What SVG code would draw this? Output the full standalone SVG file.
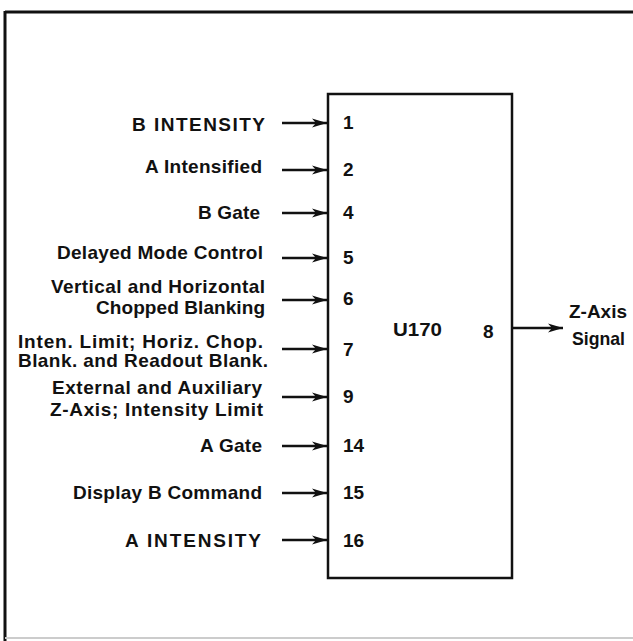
<svg xmlns="http://www.w3.org/2000/svg" width="633" height="641" viewBox="0 0 633 641">
<defs>
<marker id="ah" markerWidth="16" markerHeight="12" refX="15" refY="6" orient="auto" markerUnits="userSpaceOnUse">
<path d="M0,1.5 L15,6 L0,10.5 L4,6 Z" fill="#111"/>
</marker>
</defs>
<style>
text{font-family:"Liberation Sans",Arial,sans-serif;font-weight:bold;font-size:19px;fill:#111}
.lbl{text-anchor:end}
.pin{text-anchor:start}
.wire{stroke:#111;stroke-width:2.4;fill:none}
.box{stroke:#111;stroke-width:2.5;fill:#fff}
</style>
<rect width="633" height="641" fill="#fff"/>
<g id="frame">
<line x1="5" y1="12" x2="633" y2="12" stroke="#111" stroke-width="3"/>
<line x1="5" y1="11" x2="5" y2="641" stroke="#111" stroke-width="3"/>
<line x1="5" y1="638" x2="633" y2="638" stroke="#ccc" stroke-width="2"/>
</g>
<g id="u170">
<rect class="box" x="328" y="94" width="184" height="484"/>
<text x="393" y="336" textLength="49" lengthAdjust="spacingAndGlyphs">U170</text>
<text x="483" y="338">8</text>
<text class="pin" x="343" y="129">1</text>
<text class="pin" x="343" y="176">2</text>
<text class="pin" x="343" y="219">4</text>
<text class="pin" x="343" y="264">5</text>
<text class="pin" x="343" y="305">6</text>
<text class="pin" x="343" y="356">7</text>
<text class="pin" x="343" y="403">9</text>
<text class="pin" x="343" y="452">14</text>
<text class="pin" x="343" y="499">15</text>
<text class="pin" x="343" y="547">16</text>
</g>
<g id="in1"><text class="lbl" x="265" y="131" textLength="133">B INTENSITY</text></g>
<g id="in2"><text class="lbl" x="262" y="173" textLength="117">A Intensified</text></g>
<g id="in4"><text class="lbl" x="260" y="219" textLength="62">B Gate</text></g>
<g id="in5"><text class="lbl" x="263" y="259" textLength="206">Delayed Mode Control</text></g>
<g id="in6">
<text class="lbl" x="265" y="293" textLength="214">Vertical and Horizontal</text>
<text class="lbl" x="265" y="314" textLength="169">Chopped Blanking</text>
</g>
<g id="in7">
<text class="lbl" x="263" y="348" textLength="245">Inten. Limit; Horiz. Chop.</text>
<text class="lbl" x="268" y="367" textLength="250">Blank. and Readout Blank.</text>
</g>
<g id="in9">
<text class="lbl" x="262" y="394" textLength="210">External and Auxiliary</text>
<text class="lbl" x="263" y="416" textLength="213">Z-Axis; Intensity Limit</text>
</g>
<g id="in14"><text class="lbl" x="262" y="452" textLength="62">A Gate</text></g>
<g id="in15"><text class="lbl" x="262" y="499" textLength="189">Display B Command</text></g>
<g id="in16"><text class="lbl" x="261" y="547" textLength="136">A INTENSITY</text></g>
<g id="out8">
<text x="569" y="318" textLength="58" lengthAdjust="spacingAndGlyphs">Z-Axis</text>
<text x="572" y="345" textLength="53" lengthAdjust="spacingAndGlyphs">Signal</text>
</g>
<g id="connectors">
<line class="wire" x1="282" y1="123" x2="327" y2="123" marker-end="url(#ah)"/>
<line class="wire" x1="282" y1="170" x2="327" y2="170" marker-end="url(#ah)"/>
<line class="wire" x1="282" y1="213" x2="327" y2="213" marker-end="url(#ah)"/>
<line class="wire" x1="282" y1="258" x2="327" y2="258" marker-end="url(#ah)"/>
<line class="wire" x1="282" y1="300" x2="327" y2="300" marker-end="url(#ah)"/>
<line class="wire" x1="282" y1="349" x2="327" y2="349" marker-end="url(#ah)"/>
<line class="wire" x1="282" y1="397" x2="327" y2="397" marker-end="url(#ah)"/>
<line class="wire" x1="282" y1="446" x2="327" y2="446" marker-end="url(#ah)"/>
<line class="wire" x1="282" y1="493" x2="327" y2="493" marker-end="url(#ah)"/>
<line class="wire" x1="282" y1="540" x2="327" y2="540" marker-end="url(#ah)"/>
<line class="wire" x1="513" y1="328" x2="563" y2="328" marker-end="url(#ah)"/>
</g>
</svg>
